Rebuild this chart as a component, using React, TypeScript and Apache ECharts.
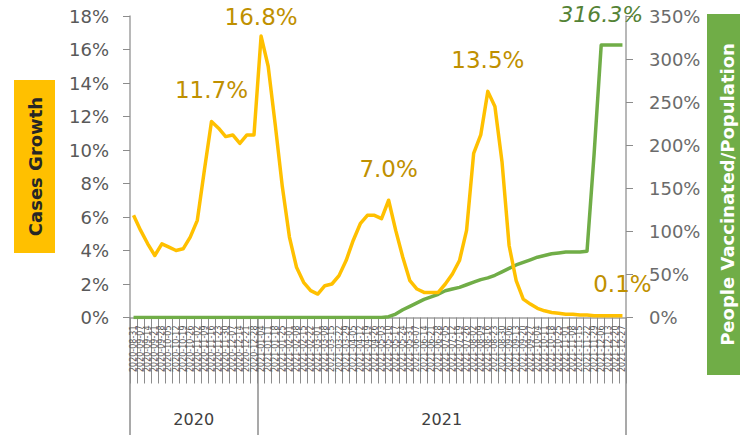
import React, { useEffect, useRef } from "react";
import * as echarts from "echarts";

// Weekly categories (week starting)
const weeks: string[] = [
  "2020-08-31", "2020-09-07", "2020-09-14", "2020-09-21", "2020-09-28",
  "2020-10-05", "2020-10-12", "2020-10-19", "2020-10-26", "2020-11-02",
  "2020-11-09", "2020-11-16", "2020-11-23", "2020-11-30", "2020-12-07",
  "2020-12-14", "2020-12-21", "2020-12-28",
  "2021-01-04", "2021-01-11", "2021-01-18", "2021-01-25", "2021-02-01",
  "2021-02-08", "2021-02-15", "2021-02-22", "2021-03-01", "2021-03-08",
  "2021-03-15", "2021-03-22", "2021-03-29", "2021-04-05", "2021-04-12",
  "2021-04-19", "2021-04-26", "2021-05-03", "2021-05-10", "2021-05-17",
  "2021-05-24", "2021-05-31", "2021-06-07", "2021-06-14", "2021-06-21",
  "2021-06-28", "2021-07-05", "2021-07-12", "2021-07-19", "2021-07-26",
  "2021-08-02", "2021-08-09", "2021-08-16", "2021-08-23", "2021-08-30",
  "2021-09-06", "2021-09-13", "2021-09-20", "2021-09-27", "2021-10-04",
  "2021-10-11", "2021-10-18", "2021-10-25", "2021-11-01", "2021-11-08",
  "2021-11-15", "2021-11-22", "2021-11-29", "2021-12-06", "2021-12-13",
  "2021-12-20", "2021-12-27",
];

// Cases growth (%), left axis
const casesGrowth: number[] = [
  6.1, 5.2, 4.4, 3.7, 4.4, 4.2, 4.0, 4.1, 4.8, 5.8,
  8.8, 11.7, 11.3, 10.8, 10.9, 10.4, 10.9, 10.9, 16.8, 15.0,
  11.5, 7.8, 4.8, 3.0, 2.1, 1.6, 1.4, 1.9, 2.0, 2.5,
  3.4, 4.6, 5.6, 6.1, 6.1, 5.9, 7.0, 5.2, 3.6, 2.2,
  1.7, 1.5, 1.5, 1.5, 2.0, 2.6, 3.4, 5.2, 9.8, 10.9,
  13.5, 12.6, 9.3, 4.3, 2.2, 1.1, 0.8, 0.55, 0.4, 0.3,
  0.25, 0.2, 0.2, 0.15, 0.15, 0.1, 0.1, 0.1, 0.1, 0.1,
];

// People vaccinated / population (%), right axis
const vaccinatedPop: number[] = [
  0, 0, 0, 0, 0, 0, 0, 0, 0, 0,
  0, 0, 0, 0, 0, 0, 0, 0, 0, 0,
  0, 0, 0, 0, 0, 0, 0, 0, 0, 0,
  0, 0, 0, 0, 0, 0, 1, 4, 9, 13,
  17, 21, 24, 27, 31, 33, 35, 38, 41, 44,
  46, 49, 53, 57, 61, 64, 67, 70, 72, 74,
  75, 76, 76, 76, 77, 190, 316.3, 316.3, 316.3, 316.3,
];

const casesLabelIdx: number[] = [11, 18, 36, 50, 69];
const vaccLabelIdx: number[] = [66];

const leftAxis = { min: 0, max: 18, interval: 2 };
const rightAxis = { min: 0, max: 350, interval: 50 };

const FONT = "DejaVu Sans";

export default function App() {
  const ref = useRef<HTMLDivElement>(null);

  useEffect(() => {
    if (!ref.current) return;
    const chart = echarts.init(ref.current, null, { renderer: "svg" });

    const years = weeks.map((w) => w.slice(0, 4));
    const yearStarts: number[] = [];
    years.forEach((y, i) => {
      if (i === 0 || y !== years[i - 1]) yearStarts.push(i);
    });
    const yearMids = yearStarts.map((s, k) => {
      const e = k + 1 < yearStarts.length ? yearStarts[k + 1] - 1 : years.length - 1;
      return Math.floor((s + e) / 2);
    });

    const gray = "#a0a0a0";
    const tickGray = "#8c8c8c";
    const maxCase = Math.max(...casesGrowth);

    chart.setOption({
      animation: false,
      grid: { left: 130, right: 114, top: 16, bottom: 117.5 },
      xAxis: [
        {
          type: "category",
          position: "bottom",
          data: weeks,
          axisLine: { show: true, lineStyle: { color: gray, width: 1.5 } },
          axisTick: { show: true, interval: 0, length: 66, lineStyle: { color: tickGray, width: 1 } },
          axisLabel: {
            interval: 0,
            rotate: 90,
            margin: 8,
            fontSize: 8,
            fontFamily: FONT,
            color: "#555555",
          },
        },
        {
          type: "category",
          position: "bottom",
          offset: 0,
          data: years,
          axisLine: { show: false },
          axisTick: {
            show: true,
            interval: (i: number) => yearStarts.includes(i),
            length: 118,
            lineStyle: { color: tickGray, width: 1.5 },
          },
          axisLabel: {
            interval: (i: number) => yearMids.includes(i),
            margin: 94,
            fontSize: 16,
            fontFamily: FONT,
            color: "#404040",
            padding: [0, 0, 0, 7],
          },
        },
      ],
      yAxis: [
        {
          type: "value",
          position: "left",
          min: leftAxis.min,
          max: leftAxis.max,
          interval: leftAxis.interval,
          splitLine: { show: false },
          axisLine: { show: true, lineStyle: { color: gray, width: 1.5 } },
          axisTick: { show: true, length: 7, lineStyle: { color: tickGray } },
          axisLabel: {
            formatter: "{value}%",
            margin: 21,
            fontSize: 18,
            fontFamily: FONT,
            color: "#595959",
          },
        },
        {
          type: "value",
          position: "right",
          min: rightAxis.min,
          max: rightAxis.max,
          interval: rightAxis.interval,
          splitLine: { show: false },
          axisLine: { show: true, lineStyle: { color: gray, width: 1.5 } },
          axisTick: { show: true, length: 7, lineStyle: { color: tickGray } },
          axisLabel: {
            formatter: "{value}%",
            margin: 23,
            fontSize: 18,
            fontFamily: FONT,
            color: "#6b6b6b",
          },
        },
      ],
      series: [
        {
          name: "People Vaccinated/Population",
          type: "line",
          xAxisIndex: 0,
          yAxisIndex: 1,
          silent: true,
          showSymbol: true,
          showAllSymbol: true,
          symbol: "circle",
          symbolSize: 0,
          lineStyle: { color: "#70AD47", width: 3.5, join: "round" },
          itemStyle: { color: "#70AD47" },
          label: {
            show: false,
            position: "top",
            distance: 20,
            formatter: (p: any) => `${Number(p.value).toFixed(1)}%`,
            color: "#548235",
            fontSize: 22,
            fontStyle: "italic",
            fontFamily: FONT,
          },
          data: vaccinatedPop.map((v, i) =>
            vaccLabelIdx.includes(i) ? { value: v, label: { show: true } } : v
          ),
          z: 2,
        },
        {
          name: "Cases Growth",
          type: "line",
          xAxisIndex: 0,
          yAxisIndex: 0,
          silent: true,
          showSymbol: true,
          showAllSymbol: true,
          symbol: "circle",
          symbolSize: 0,
          lineStyle: { color: "#FFC000", width: 3.5, join: "round" },
          itemStyle: { color: "#FFC000" },
          label: {
            show: false,
            position: "top",
            distance: 20,
            formatter: (p: any) => `${Number(p.value).toFixed(1)}%`,
            color: "#BF9000",
            fontSize: 23,
            fontFamily: FONT,
          },
          data: casesGrowth.map((v, i) =>
            casesLabelIdx.includes(i)
              ? {
                  value: v,
                  label: v === maxCase ? { show: true, distance: 8 } : { show: true },
                }
              : v
          ),
          z: 3,
        },
      ],
      graphic: [
        {
          type: "rect",
          shape: { x: 14, y: 80, width: 41, height: 173 },
          style: { fill: "#FFC000" },
          silent: true,
        },
        {
          type: "text",
          x: 35,
          y: 166.5,
          rotation: Math.PI / 2,
          style: {
            text: "Cases Growth",
            fill: "#262626",
            fontSize: 18,
            fontWeight: "bold",
            fontFamily: FONT,
            align: "center",
            verticalAlign: "middle",
          },
          silent: true,
        },
        {
          type: "rect",
          shape: { x: 707, y: 14, width: 40, height: 361 },
          style: { fill: "#70AD47" },
          silent: true,
        },
        {
          type: "text",
          x: 727,
          y: 194.5,
          rotation: Math.PI / 2,
          style: {
            text: "People Vaccinated/Population",
            fill: "#ffffff",
            fontSize: 18,
            fontWeight: "bold",
            fontFamily: FONT,
            align: "center",
            verticalAlign: "middle",
          },
          silent: true,
        },
      ],
    });

    return () => chart.dispose();
  }, []);

  return (
    <div
      ref={ref}
      style={{ position: "fixed", left: 0, top: 0, width: 740, height: 435, background: "#ffffff" }}
    />
  );
}
